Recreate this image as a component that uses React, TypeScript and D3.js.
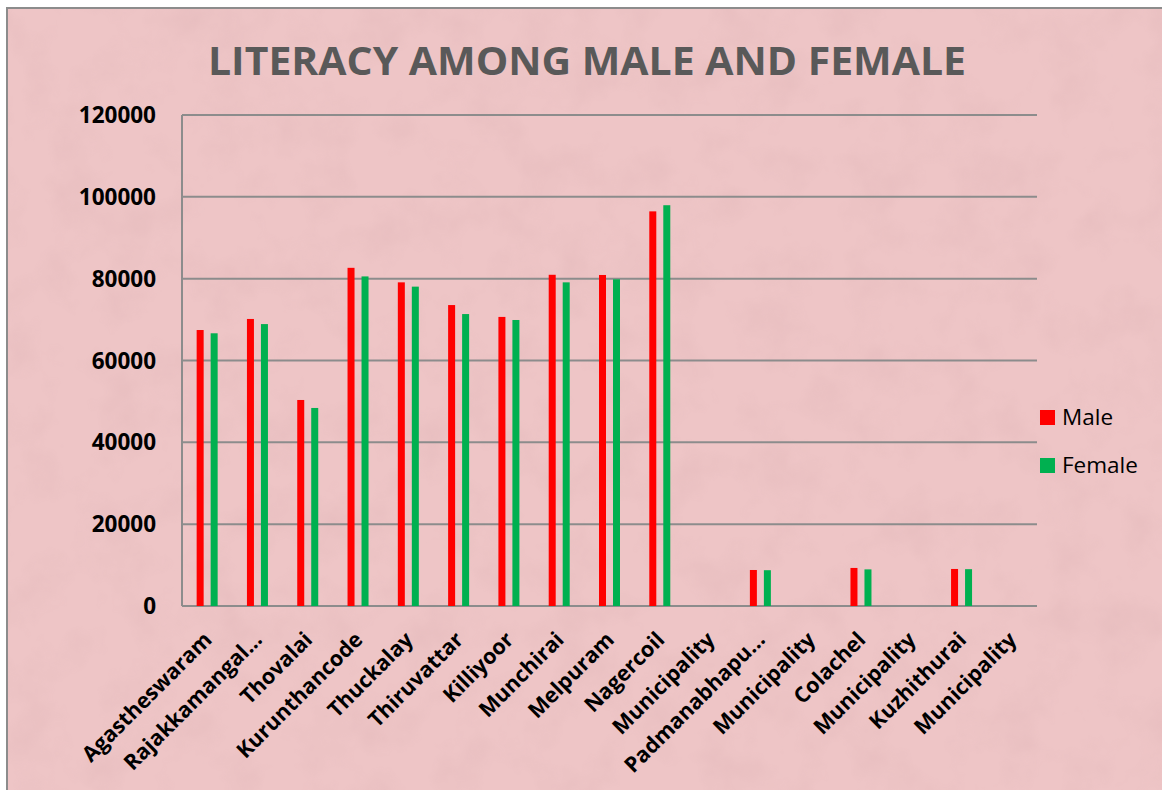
import { useEffect, useRef } from 'react';
import * as d3 from 'd3';

// categories and series
const categories = [
  'Agastheswaram', 'Rajakkamangal...', 'Thovalai', 'Kurunthancode', 'Thuckalay',
  'Thiruvattar', 'Killiyoor', 'Munchirai', 'Melpuram', 'Nagercoil',
  'Municipality', 'Padmanabhapu...', 'Municipality', 'Colachel', 'Municipality',
  'Kuzhithurai', 'Municipality'
];
const maleValues = [
  67450, 70150, 50350, 82650, 79100, 73550, 70650, 80950, 80900, 96450,
  0, 8800, 0, 9300, 0, 9050, 0
];
const femaleValues = [
  66650, 68900, 48400, 80550, 78050, 71350, 69900, 79100, 79850, 97950,
  0, 8750, 0, 8950, 0, 9000, 0
];
const yTicks = [0, 20000, 40000, 60000, 80000, 100000, 120000];
const seriesNames = ['Male', 'Female'];
const seriesColors = ['#ff0000', '#00b050'];

const App = () => {
  const chartRef = useRef<SVGSVGElement>(null);

  useEffect(() => {
    const svg = d3.select(chartRef.current);
    svg.selectAll('*').remove();

    const width = 1162;
    const height = 790;
    const plot = { left: 182, top: 115, right: 1037, bottom: 606 };
    const barWidth = 7;

    // textured pink background
    const defs = svg.append('defs');
    const filter = defs.append('filter').attr('id', 'paper')
      .attr('x', 0).attr('y', 0).attr('width', '100%').attr('height', '100%');
    filter.append('feTurbulence')
      .attr('type', 'fractalNoise')
      .attr('baseFrequency', 0.02)
      .attr('numOctaves', 4)
      .attr('seed', 7)
      .attr('result', 'noise');
    filter.append('feColorMatrix')
      .attr('in', 'noise')
      .attr('type', 'matrix')
      .attr('values', '0 0 0 0 0.6  0 0 0 0 0.35  0 0 0 0 0.37  0 0 0 -1.1 0.62');

    svg.append('rect')
      .attr('x', 7).attr('y', 8)
      .attr('width', width).attr('height', height)
      .attr('fill', '#eec5c6')
      .attr('stroke', '#8c8c8c')
      .attr('stroke-width', 2);
    svg.append('rect')
      .attr('x', 8).attr('y', 9)
      .attr('width', width).attr('height', height)
      .attr('filter', 'url(#paper)')
      .attr('opacity', 0.3);

    // title
    svg.append('text')
      .attr('x', 587)
      .attr('y', 75)
      .attr('text-anchor', 'middle')
      .attr('font-family', 'Open Sans, sans-serif')
      .attr('font-weight', 700)
      .attr('font-size', 40)
      .attr('fill', '#595959')
      .attr('textLength', 758)
      .attr('lengthAdjust', 'spacingAndGlyphs')
      .text('LITERACY AMONG MALE AND FEMALE');

    // scales
    const x0 = d3.scaleBand<number>()
      .domain(d3.range(categories.length))
      .range([plot.left, plot.right]);
    const x1 = d3.scalePoint<number>()
      .domain([0, 1])
      .range([-7, 7]);
    const y = d3.scaleLinear()
      .domain([0, 120000])
      .range([plot.bottom, plot.top]);

    // gridlines
    svg.append('g')
      .selectAll('line')
      .data(yTicks)
      .join('line')
      .attr('x1', plot.left)
      .attr('x2', plot.right)
      .attr('y1', d => y(d))
      .attr('y2', d => y(d))
      .attr('stroke', '#8c8c8c')
      .attr('stroke-width', 2);
    svg.append('line')
      .attr('x1', plot.left).attr('x2', plot.left)
      .attr('y1', plot.top).attr('y2', plot.bottom)
      .attr('stroke', '#8c8c8c')
      .attr('stroke-width', 2);

    // y tick labels
    svg.append('g')
      .selectAll('text')
      .data(yTicks)
      .join('text')
      .attr('x', 156)
      .attr('y', d => y(d) + 8)
      .attr('text-anchor', 'end')
      .attr('font-family', 'Open Sans, sans-serif')
      .attr('font-weight', 700)
      .attr('font-size', 22.5)
      .attr('fill', '#000')
      .text(d => d);

    // bars
    const seriesData = [maleValues, femaleValues];
    seriesData.forEach((values, s) => {
      svg.append('g')
        .selectAll('rect')
        .data(values)
        .join('rect')
        .attr('x', (d, i) => (x0(i) ?? 0) + x0.bandwidth() / 2 + (x1(s) ?? 0) - barWidth / 2)
        .attr('width', barWidth)
        .attr('y', d => y(d))
        .attr('height', d => y(0) - y(d))
        .attr('fill', seriesColors[s]);
    });

    // category labels
    svg.append('g')
      .selectAll('text')
      .data(categories)
      .join('text')
      .attr('transform', (d, i) => {
        const cx = (x0(i) ?? 0) + x0.bandwidth() / 2 + 6;
        return `translate(${cx}, 641) rotate(-45)`;
      })
      .attr('text-anchor', 'end')
      .attr('font-family', 'Open Sans, sans-serif')
      .attr('font-weight', 700)
      .attr('font-size', 21.5)
      .attr('fill', '#000')
      .text(d => d);

    // legend
    const legend = svg.append('g');
    seriesNames.forEach((name, i) => {
      const ly = 410 + i * 48;
      legend.append('rect')
        .attr('x', 1040).attr('y', ly)
        .attr('width', 15).attr('height', 15)
        .attr('fill', seriesColors[i]);
      legend.append('text')
        .attr('x', 1062)
        .attr('y', ly + 15)
        .attr('font-family', 'Open Sans, sans-serif')
        .attr('font-size', 22.5)
        .attr('fill', '#000')
        .text(name);
    });
  }, []);

  return (
    <svg
      ref={chartRef}
      width={1162}
      height={790}
      style={{ position: 'absolute', left: 0, top: 0 }}
    />
  );
};

export default App;
